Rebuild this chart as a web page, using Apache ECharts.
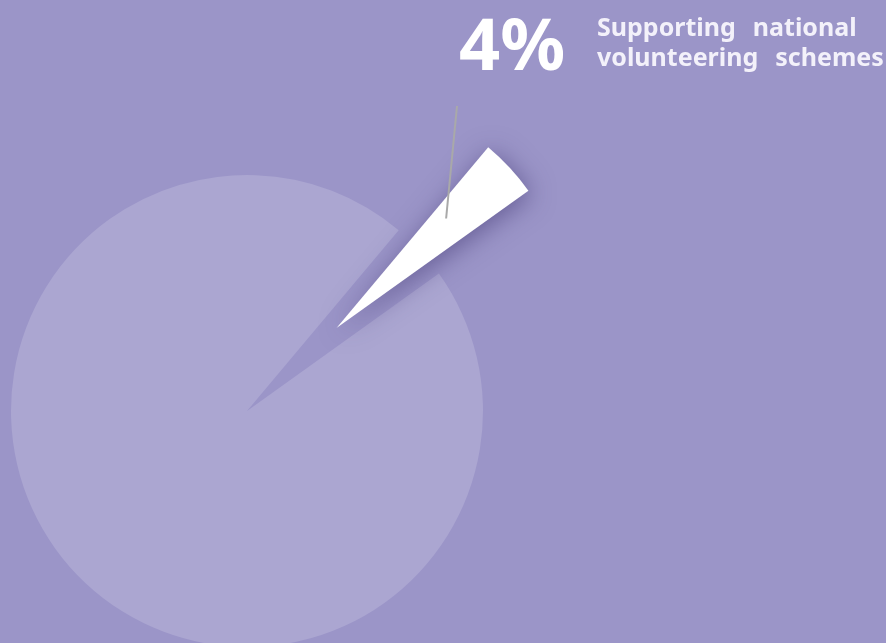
<!DOCTYPE html>
<html><head><meta charset="utf-8">
<script src="https://cdn.jsdelivr.net/npm/echarts@6/dist/echarts.min.js"></script>
<style>html,body{margin:0;padding:0;background:#9b95c8;}#c{width:886px;height:643px;}</style>
</head><body><div id="c"></div>
<script>
// Data
const categories = ['Supporting national volunteering schemes', 'Other'];
const values = [4, 96];
const titleLines = [['Supporting', 'national'], ['volunteering', 'schemes']];

// Layout constants
const CX = 247, CY = 411, R = 236, OFFSET = 122, START = 50;
const LABEL_X = 459, LABEL_Y = 13;
const FONT = '"Noto Sans", sans-serif';
const CLEAR = 'rgba(0,0,0,0)';

const chart = echarts.init(document.getElementById('c'), null, {renderer: 'canvas'});

const total = values.reduce((a, b) => a + b, 0);
const midRad = (START - values[0] / total * 360 / 2) * Math.PI / 180;
const OCX = CX + OFFSET * Math.cos(midRad), OCY = CY - OFFSET * Math.sin(midRad);

const baseSeries = {
  type: 'pie', radius: R, startAngle: START, clockwise: true,
  emphasis: {disabled: true}, silent: true
};

const titleText = titleLines.map(ws => ws.map(w => '{t|' + w + '}').join('{g|\u00a0}')).join('\n');

chart.setOption({
  backgroundColor: '#9b95c8',
  animation: false,
  title: {
    text: titleText,
    left: 597, top: 14, padding: 0,
    textStyle: {
      rich: {
        t: {color: '#f3f1fa', fontSize: 25, fontWeight: 'bold', fontFamily: FONT, lineHeight: 30},
        g: {width: 17, fontSize: 25, lineHeight: 30}
      }
    }
  },
  series: [
    // whole pie, the highlighted slice left out
    Object.assign({}, baseSeries, {
      z: 1,
      center: [CX, CY],
      label: {show: false}, labelLine: {show: false},
      data: [
        {name: categories[0], value: values[0], itemStyle: {color: CLEAR}},
        {name: categories[1], value: values[1], itemStyle: {color: '#aba6d1'}}
      ]
    }),
    // the pulled-out slice
    Object.assign({}, baseSeries, {
      z: 2,
      center: [OCX, OCY],
      label: {show: false}, labelLine: {show: false},
      data: [
        {
          name: categories[0], value: values[0],
          itemStyle: {color: '#ffffff', shadowBlur: 26, shadowColor: 'rgba(60,50,110,0.55)', shadowOffsetX: 3, shadowOffsetY: 4}
        },
        {name: categories[1], value: values[1], itemStyle: {color: CLEAR}}
      ]
    }),
    // label and its line, drawn above the slice
    Object.assign({}, baseSeries, {
      z: 3,
      center: [OCX, OCY],
      data: [
        {
          name: categories[0], value: values[0],
          itemStyle: {color: CLEAR},
          label: {
            show: true, position: 'outside',
            formatter: '{p|{c}%}',
            rich: {p: {fontSize: 72, lineHeight: 72, fontWeight: 'bold', color: '#ffffff', fontFamily: FONT}}
          },
          labelLine: {show: true, showAbove: true, lineStyle: {color: '#a9a9a9', width: 2}}
        },
        {
          name: categories[1], value: values[1],
          itemStyle: {color: CLEAR},
          label: {show: false}, labelLine: {show: false}
        }
      ],
      labelLayout: function (p) {
        if (p.dataIndex !== 0) return {};
        const b = 45 * Math.PI / 180;
        const sx = OCX + 155 * Math.cos(b), sy = OCY - 155 * Math.sin(b);
        return {
          x: LABEL_X, y: LABEL_Y, align: 'left', verticalAlign: 'top',
          labelLinePoints: [[sx, sy], [LABEL_X - 2, LABEL_Y + 93]]
        };
      }
    })
  ]
});
</script></body></html>
